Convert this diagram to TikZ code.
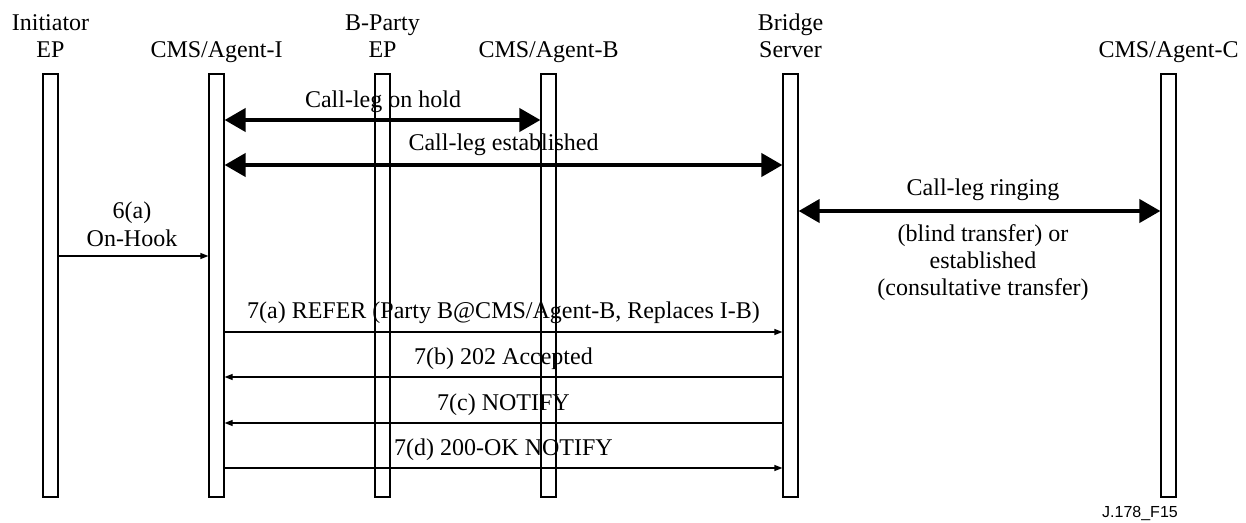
\documentclass[tikz,border=0pt]{standalone}
\usepackage{fontspec}
\setmainfont{Liberation Serif}
\newfontfamily\labelsans{Liberation Sans}
\usetikzlibrary{arrows.meta}
\tikzset{
  lifeline/.style={draw, line width=1.2pt, rectangle, minimum width=15pt, minimum height=423pt, inner sep=0pt},
  txt/.style={anchor=base, inner sep=0pt, font=\fontsize{24}{27}\selectfont},
  thick leg/.style={line width=4pt, {Triangle[length=21pt,width=23pt]}-{Triangle[length=21pt,width=23pt]}, shorten <=0pt, shorten >=0pt},
  msg/.style={line width=1.2pt, -{Triangle[length=8pt,width=6pt]}},
}
\begin{document}
\begin{tikzpicture}[x=1pt,y=-1pt]
\useasboundingbox (0,0) rectangle (1246,522);
% lifelines
\node[lifeline] (ep)  at (50.5,285.5) {};
\node[lifeline] (ai)  at (216.5,285.5) {};
\node[lifeline] (bp)  at (382.5,285.5) {};
\node[lifeline] (ab)  at (548.5,285.5) {};
\node[lifeline] (br)  at (790.5,285.5) {};
\node[lifeline] (ac)  at (1168.5,285.5) {};
% headers
\node[txt] (h1a) at (50.5,30) {Initiator};
\node[txt] (h1b) at (50.5,57) {EP};
\node[txt] (h2)  at (216.5,57) {CMS/Agent-I};
\node[txt] (h3a) at (382.5,30) {B-Party};
\node[txt] (h3b) at (382.5,57) {EP};
\node[txt] (h4)  at (548.5,57) {CMS/Agent-B};
\node[txt] (h5a) at (790.5,30) {Bridge};
\node[txt] (h5b) at (790.5,57) {Server};
\node[txt] (h6)  at (1168.5,57) {CMS/Agent-C};
% thick call legs
\draw[thick leg] (ai.east |- 0,120) -- (ab.west |- 0,120);
\node[txt] (l1) at (383,107) {Call-leg on hold};
\draw[thick leg] (ai.east |- 0,165) -- (br.west |- 0,165);
\node[txt] (l2) at (503.5,150) {Call-leg established};
\draw[thick leg] (br.east |- 0,211) -- (ac.west |- 0,211);
\node[txt] (l3) at (983,195) {Call-leg ringing};
\node[txt] (l3b) at (983,241) {(blind transfer) or};
\node[txt] (l3c) at (983,268) {established};
\node[txt] (l3d) at (983,295) {(consultative transfer)};
% messages
\draw[msg] (ep.east |- 0,256) -- (ai.west |- 0,256);
\node[txt] (m6a) at (132,218) {6(a)};
\node[txt] (m6b) at (132,246) {On-Hook};
\draw[msg] (ai.east |- 0,332) -- (br.west |- 0,332);
\node[txt] (m7a) at (503.5,318) {7(a) REFER (Party B@CMS/Agent-B, Replaces I-B)};
\draw[msg] (br.west |- 0,377) -- (ai.east |- 0,377);
\node[txt] (m7b) at (503.5,364) {7(b) 202 Accepted};
\draw[msg] (br.west |- 0,423) -- (ai.east |- 0,423);
\node[txt] (m7c) at (503.5,410) {7(c) NOTIFY};
\draw[msg] (ai.east |- 0,468) -- (br.west |- 0,468);
\node[txt] (m7d) at (503.5,455) {7(d) 200-OK NOTIFY};
% figure id
\node[anchor=base, inner sep=0pt, font=\labelsans\fontsize{16}{18}\selectfont] (fid) at (1140,517) {J.178\_F15};
\end{tikzpicture}
\end{document}
